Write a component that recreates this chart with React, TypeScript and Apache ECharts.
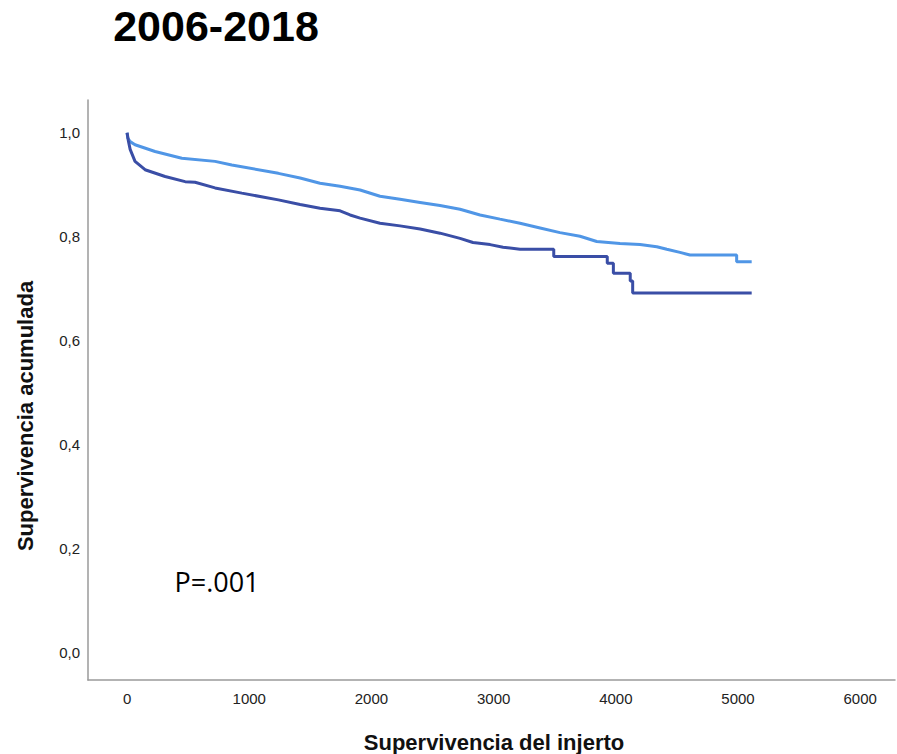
import React, { useEffect, useRef } from "react";
import * as echarts from "echarts";

const titleText = "2006-2018";
const xAxisTitle = "Supervivencia del injerto";
const yAxisTitle = "Supervivencia acumulada";
const pValueText = "P=.001";

const xTicks = [0, 1000, 2000, 3000, 4000, 5000, 6000];
const yTicks = [0, 0.2, 0.4, 0.6, 0.8, 1.0];

// Light blue group: [days, cumulative survival]
const lightCurve: [number, number][] = [
  [0, 1.0], [5, 0.99], [25, 0.983], [65, 0.977], [229, 0.964], [448, 0.951],
  [720, 0.945], [857, 0.938], [1238, 0.922], [1416, 0.913], [1579, 0.903],
  [1743, 0.897], [1907, 0.89], [2070, 0.878], [2234, 0.872], [2398, 0.866],
  [2561, 0.86], [2725, 0.853], [2889, 0.842], [3052, 0.834], [3216, 0.826],
  [3380, 0.817], [3543, 0.808], [3707, 0.801], [3844, 0.791], [4034, 0.787],
  [4198, 0.785], [4335, 0.781], [4417, 0.776], [4525, 0.77], [4607, 0.765],
  [4989, 0.765], [4989, 0.752], [5112, 0.752],
];

// Dark blue group: [days, cumulative survival]
const darkCurve: [number, number][] = [
  [0, 1.0], [10, 0.985], [25, 0.968], [65, 0.945], [147, 0.929], [311, 0.916],
  [475, 0.906], [556, 0.905], [720, 0.894], [939, 0.884], [1238, 0.871],
  [1416, 0.862], [1579, 0.855], [1743, 0.85], [1825, 0.842], [1907, 0.836],
  [2070, 0.826], [2234, 0.821], [2398, 0.815], [2561, 0.807], [2725, 0.797],
  [2831, 0.789], [2971, 0.785], [3077, 0.78], [3216, 0.776], [3492, 0.776],
  [3492, 0.762], [3930, 0.762], [3930, 0.749], [3980, 0.749], [3980, 0.73],
  [4118, 0.73], [4118, 0.715], [4138, 0.715], [4138, 0.692], [5112, 0.692],
];

const lightColor = "#5096e6";
const darkColor = "#3a4ea6";
const axisColor = "#9a9a9a";

export default function App() {
  const ref = useRef<HTMLDivElement>(null);

  useEffect(() => {
    if (!ref.current) return;
    const chart = echarts.init(ref.current, null, { renderer: "svg" });
    const axisFont = "'Liberation Sans', Arial, sans-serif";
    chart.setOption({
      animation: false,
      backgroundColor: "#ffffff",
      grid: { left: 88, right: 2, top: 100, bottom: 74, outerBoundsMode: "none" },
      xAxis: {
        type: "value",
        min: -320,
        max: 6285,
        axisLine: { show: true, onZero: false, lineStyle: { color: axisColor, width: 1.5 } },
        axisTick: { show: false },
        splitLine: { show: false },
        axisLabel: {
          customValues: xTicks,
          fontSize: 15,
          color: "#222",
          fontFamily: axisFont,
          margin: 11,
          formatter: (v: number) => String(v),
        },
      },
      yAxis: {
        type: "value",
        min: -0.052,
        max: 1.063,
        axisLine: { show: true, onZero: false, lineStyle: { color: axisColor, width: 1.5 } },
        axisTick: { show: false },
        splitLine: { show: false },
        axisLabel: {
          customValues: yTicks,
          fontSize: 15,
          color: "#222",
          fontFamily: axisFont,
          margin: 8,
          formatter: (v: number) => v.toFixed(1).replace(".", ","),
        },
      },
      series: [
        {
          type: "line",
          data: lightCurve,
          showSymbol: false,
          symbol: "none",
          lineStyle: { color: lightColor, width: 3 },
          itemStyle: { color: lightColor },
          z: 2,
        },
        {
          type: "line",
          data: darkCurve,
          showSymbol: false,
          symbol: "none",
          lineStyle: { color: darkColor, width: 3 },
          itemStyle: { color: darkColor },
          z: 3,
        },
      ],
      graphic: [
        {
          type: "text",
          x: 216,
          y: 26,
          style: {
            text: titleText,
            fill: "#000",
            font: "bold 43px 'Liberation Sans', Arial, sans-serif",
            textAlign: "center",
            textVerticalAlign: "middle",
          },
        },
        {
          type: "text",
          x: 217,
          y: 581,
          style: {
            text: pValueText,
            fill: "#000",
            font: "27px 'Open Sans', sans-serif",
            textAlign: "center",
            textVerticalAlign: "middle",
          },
        },
        {
          type: "text",
          x: 494,
          y: 742,
          style: {
            text: xAxisTitle,
            fill: "#111",
            font: "bold 22px 'Liberation Sans', Arial, sans-serif",
            textAlign: "center",
            textVerticalAlign: "middle",
          },
        },
        {
          type: "text",
          x: 25,
          y: 416,
          rotation: Math.PI / 2,
          style: {
            text: yAxisTitle,
            fill: "#111",
            font: "bold 22px 'Liberation Sans', Arial, sans-serif",
            textAlign: "center",
            textVerticalAlign: "middle",
          },
        },
      ],
    });
    return () => chart.dispose();
  }, []);

  return (
    <div
      ref={ref}
      style={{ position: "fixed", left: 0, top: 0, width: 897, height: 754, background: "#fff" }}
    />
  );
}
